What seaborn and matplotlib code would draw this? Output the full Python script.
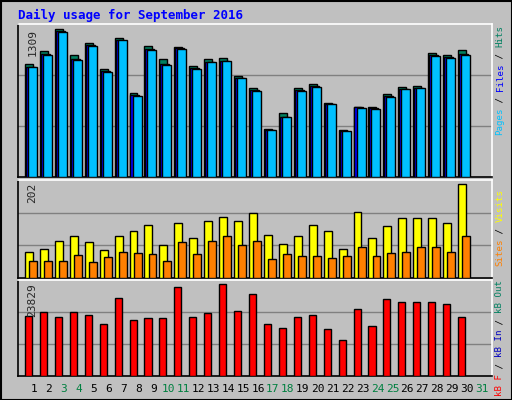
import matplotlib
matplotlib.use("Agg")
import matplotlib.pyplot as plt
import seaborn as sns
import numpy as np

days = list(range(1, 31))
hits = [997,1113,1309,1078,1184,953,1229,739,1158,1042,1149,980,1042,1051,891,784,427,570,784,819,659,419,623,623,730,793,801,1095,1078,1122]
files = [975,1085,1290,1040,1165,935,1215,725,1130,1000,1140,960,1020,1030,880,770,420,535,770,805,650,410,615,610,715,780,790,1075,1060,1085]
pages = [970,1080,1285,1035,1160,930,1210,720,1125,995,1135,955,1015,1025,875,765,415,530,765,800,645,405,610,605,710,775,785,1070,1055,1080]
visits = [56,63,80,91,78,61,91,100,113,72,119,85,122,132,122,139,93,74,91,113,100,63,141,87,111,128,130,128,119,202]
sites = [37,37,37,50,35,46,56,54,52,37,78,52,80,91,70,80,41,52,48,48,43,48,67,48,54,56,67,67,56,91]
kbytes = [15450,16500,15190,16500,15710,13360,20170,14400,14930,14930,23050,15190,16240,23829,16760,21210,13360,12310,15190,15710,12050,9430,17290,12830,19900,19120,19120,19120,18600,15190]
tick_days = list(range(1, 32))
weekend = {3, 4, 10, 11, 17, 18, 24, 25, 31}

sns.set_style("white")
plt.rcParams['font.family'] = ['DejaVu Sans Mono']
fig = plt.figure(figsize=(5.12, 4.0), dpi=100)
fig.patch.set_facecolor('#c0c0c0')
W, H = 512, 400

def mkax(top, bottom):
    ax = fig.add_axes([18/W, 1-bottom/H, (492-18)/W, (bottom-top)/H])
    ax.set_facecolor('#c0c0c0')
    ax.set_xlim(-0.07, 31.67)
    ax.set_xticks([]); ax.set_yticks([])
    for s in ax.spines.values():
        s.set_color('black'); s.set_linewidth(1.2)
    ax.spines['right'].set_color('white'); ax.spines['top'].set_color('white')
    return ax

d = np.array(days, dtype=float)
ec = dict(edgecolor='black', linewidth=1.0, align='edge', zorder=3)

ax1 = mkax(24, 177)
top1 = 1309 / 147 * 152
ax1.set_ylim(0, top1)
for g in (top1/3, 2*top1/3):
    ax1.axhline(g, color='#808080', lw=1, zorder=1)
ax1.bar(d-0.6, hits, width=0.53, color='#008060', **ec)
ax1.bar(d-0.54, files, width=0.6, color='#0000ff', **ec)
ax1.bar(d-0.4, pages, width=0.6, color='#00c0ff', **ec)
ax1.text(0.02, 0.97, '1309', transform=ax1.transAxes, rotation=90, va='top', ha='left', fontsize=8)

ax2 = mkax(180, 278)
top2 = 202 / 93 * 97
ax2.set_ylim(0, top2)
for g in (top2/3, 2*top2/3):
    ax2.axhline(g, color='#808080', lw=1, zorder=1)
ax2.bar(d-0.6, visits, width=0.53, color='#ffff00', **ec)
ax2.bar(d-0.33, sites, width=0.53, color='#ff8000', **ec)
ax2.text(0.02, 0.97, '202', transform=ax2.transAxes, rotation=90, va='top', ha='left', fontsize=8)

ax3 = mkax(280, 376)
top3 = 23829 / 91 * 95
ax3.set_ylim(0, top3)
for g in (top3/3, 2*top3/3):
    ax3.axhline(g, color='#808080', lw=1, zorder=1)
ax3.bar(d-0.6, kbytes, width=0.47, color='#ff0000', **ec)
ax3.text(0.02, 0.97, '23829', transform=ax3.transAxes, rotation=90, va='top', ha='left', fontsize=8)

for t in tick_days:
    ax3.text(t, -0.08, str(t), transform=ax3.get_xaxis_transform(), ha='center', va='top',
             fontsize=8, color='#008040' if t in weekend else 'black')

fig.text(18/W, 1-15/H, 'Daily usage for September 2016', color='#0000ff', fontsize=9,
         fontweight='bold', va='center', ha='left')

def side(parts, ycenter):
    n = sum(len(p[0]) for p in parts)
    cw = 5.5
    y = ycenter + n*cw/2
    for txt, col in parts:
        fig.text(500/W, 1-(y - len(txt)*cw/2)/H, txt, rotation=90, color=col, fontsize=6.6,
                 ha='center', va='center')
        y -= len(txt)*cw

side([('Pages', '#00c0ff'), (' / ', 'black'), ('Files', '#0000ff'), (' / ', 'black'), ('Hits', '#008060')], 80)
side([('Visits', '#ffff00'), (' / ', 'black'), ('Sites', '#ff8000')][::-1], 228)
side([('kB F', '#ff0000'), (' / ', 'black'), ('kB In', '#0000c0'), (' / ', 'black'), ('kB Out', '#008060')], 338)

border = plt.Rectangle((0.5/W, 0.5/H), 1-1/W, 1-1/H, transform=fig.transFigure, fill=False,
                       edgecolor='black', lw=1.5)
fig.patches.append(border)
fig.savefig('out.png', dpi=100, facecolor=fig.get_facecolor())
